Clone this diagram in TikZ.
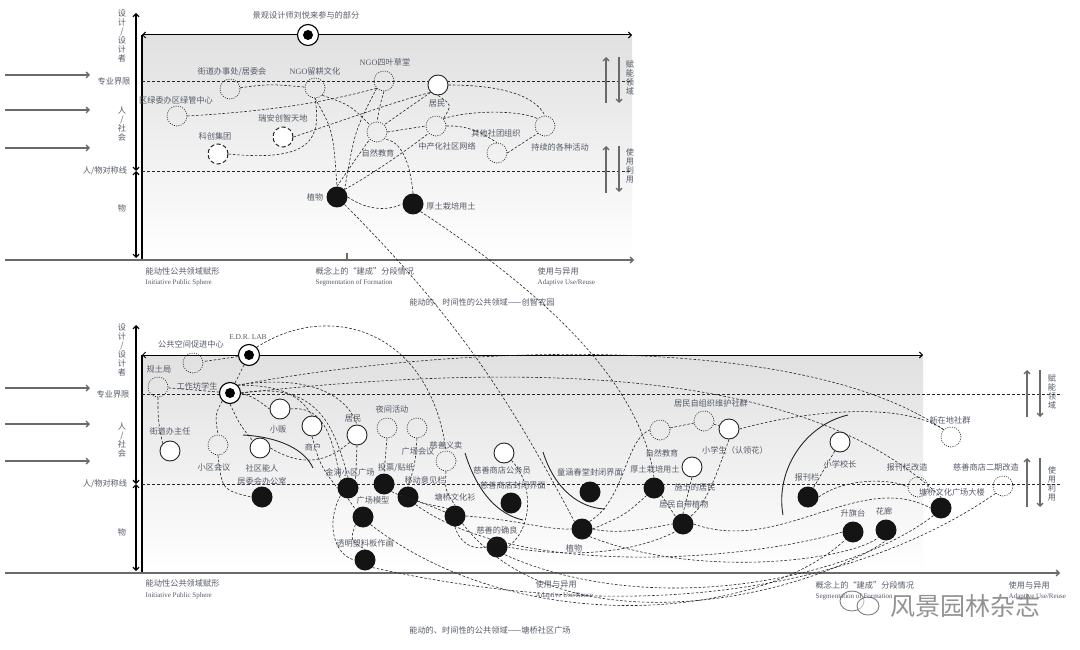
\documentclass[tikz,border=0pt]{standalone}
\usepackage{fontspec}
\setmainfont{Liberation Serif}
\newfontfamily\cjk{Noto Sans CJK SC}
\usetikzlibrary{arrows.meta}
\definecolor{txt}{HTML}{555B68}
\definecolor{axisc}{HTML}{6A6A6A}
\begin{document}
\begin{tikzpicture}[x=1pt,y=-1pt,
  lab/.style={font=\cjk\fontsize{8.2}{9}\selectfont, text=txt, inner sep=0.5pt},
  vlab/.style={lab, align=center},
  en/.style={font=\fontsize{7}{8}\selectfont, text=txt, inner sep=0.5pt, anchor=west},
  cnw/.style={lab, anchor=west},
  dotc/.style={circle, minimum size=20pt, inner sep=0pt, draw=black!85, line width=0.7pt, dash pattern=on 0.9pt off 1.4pt},
  dashc/.style={circle, minimum size=20pt, inner sep=0pt, draw=black!85, fill=white, line width=1pt, dash pattern=on 4pt off 2.5pt},
  openc/.style={circle, minimum size=20pt, inner sep=0pt, draw=black!85, fill=white, line width=0.9pt},
  blackc/.style={circle, minimum size=21pt, inner sep=0pt, fill=black!92},
  tgt/.style={circle, minimum size=21pt, inner sep=0pt, draw=black, fill=white, line width=1.1pt},
  tgtin/.style={circle, minimum size=10pt, inner sep=0pt, fill=black},
  con/.style={draw=black!85, line width=0.6pt, dash pattern=on 2.6pt off 1.8pt},
  guide/.style={draw=black!85, line width=0.7pt, dash pattern=on 3pt off 2pt},
  axisl/.style={draw=axisc, line width=1.3pt},
  vax/.style={draw=black, line width=1.2pt},
  arr/.style={-{Straight Barb[length=3pt,width=6pt]}},
  darr/.style={{Straight Barb[length=3pt,width=6pt]}-{Straight Barb[length=3pt,width=6pt]}},
  solidarc/.style={draw=black!85, line width=0.9pt},
]
\useasboundingbox (0,0) rectangle (1080,650);
\fill[white] (0,0) rectangle (1080,650);

%================ TOP DIAGRAM =================
\shade[top color=black!12, bottom color=white] (142,35) rectangle (632,260);
\draw[vax] (142,35) -- (142,260);
\draw[vax, darr] (136,13) -- (136,171);
\draw[vax, darr] (136,171) -- (136,258);
\draw[draw=black, line width=1pt, darr] (142,35) -- (632,35);
\draw[axisl, arr] (5,260) -- (634,260);
\draw[axisl] (347,253) -- (347,260);
\foreach \yy in {75,110,148} \draw[axisl, arr] (5,\yy) -- (90,\yy);
\draw[guide] (142,81) -- (632,81);
\draw[guide] (142,171) -- (632,171);
\draw[axisl, arr] (606,103) -- (606,57);
\draw[axisl, arr] (619,57) -- (619,103);
\draw[axisl, arr] (606,193) -- (606,146);
\draw[axisl, arr] (619,146) -- (619,192);

\node[vlab] (tv1) at (122,36) {设\\计\\/\\设\\计\\者};
\node[lab] (tv2) at (114,81) {专业界限};
\node[vlab] (tv3) at (122,124) {人\\/\\社\\会};
\node[lab] (tv4) at (105,171) {人/物对称线};
\node[lab] (tv5) at (122,208) {物};
\node[vlab] (tr1) at (630,78) {赋\\能\\领\\域};
\node[vlab] (tr2) at (630,166) {使\\用\\利\\用};

\node[lab] (ttop) at (306,15) {景观设计师刘悦来参与的部分};
\node[tgt] (tt) at (308,35) {};
\node[tgtin] (ttin) at (308,35) {};

\node[dotc] (jd) at (230,89) {};
\node[dotc] (ngo1) at (315,88) {};
\node[dotc] (lw) at (177,116) {};
\node[dashc] (ra) at (283,137) {};
\node[dashc] (kc) at (218,154) {};
\node[blackc] (zw) at (337,197) {};
\node[dotc] (ngo2) at (384,81) {};
\node[openc] (jm) at (438,85) {};
\node[dotc] (zr) at (377,132) {};
\node[dotc] (zc) at (436,126) {};
\node[dotc] (qt) at (497,153) {};
\node[dotc] (cx) at (545,126) {};
\node[blackc] (ht) at (413,204) {};

\node[lab] (jdL) at (232,72) {街道办事处/居委会};
\node[lab] (ngo1L) at (315,71) {{\rmfamily NGO}留耕文化};
\node[lab] (lwL) at (176,100) {区绿委办区绿管中心};
\node[lab] (raL) at (283,118) {瑞安创智天地};
\node[lab] (kcL) at (215,136) {科创集团};
\node[lab] (zwL) at (315,197) {植物};
\node[lab] (ngo2L) at (385,62) {{\rmfamily NGO}四叶草堂};
\node[lab] (jmL) at (437,104) {居民};
\node[lab] (zrL) at (378,153) {自然教育};
\node[lab] (zcL) at (447,146) {中产化社区网络};
\node[lab] (qtL) at (496,133) {其他社团组织};
\node[lab] (cxL) at (560,147) {持续的各种活动};
\node[lab] (htL) at (451,206) {厚土栽培用土};

\draw[con] (jd) .. controls (270,84) .. (ngo1);
\draw[con] (lw.east) .. controls (290,110) and (340,98) .. (ngo2.south west);
\draw[con] (ra.east) .. controls (350,118) and (400,100) .. (jm.south west);
\draw[con] (kc.east) .. controls (310,162) and (322,140) .. (ngo1.south);
\draw[con] (ngo1.south) .. controls (333,130) .. (zw.north);
\draw[con] (ngo1.south east) .. controls (350,105) .. (zr.north west);
\draw[con] (ngo2.south) .. controls (380,105) .. (zr.north);
\draw[con] (ngo2.south west) .. controls (355,130) .. (zw.north east);
\draw[con] (jm.south west) -- (zr.north east);
\draw[con] (jm.south) .. controls (452,105) .. (zc.north east);
\draw[con] (jm.east) .. controls (500,85) and (535,95) .. (cx.north);
\draw[con] (zr.east) -- (zc.west);
\draw[con] (zc.east) .. controls (470,125) and (485,135) .. (qt.north);
\draw[con] (zc.north east) .. controls (470,110) and (520,110) .. (cx.north west);
\draw[con] (qt.east) -- (cx.south west);
\draw[con] (zw.north east) .. controls (380,170) and (420,140) .. (zc.south west);
\draw[con] (zw.north) .. controls (355,160) .. (zr.south west);
\draw[con] (zw.east) .. controls (370,212) and (390,210) .. (ht.west);
\draw[con] (ht.north) .. controls (410,160) and (400,140) .. (zr.south east);

\node[cnw] (tb1) at (145,271) {能动性公共领域赋形};
\node[en] (tb1e) at (145,283) {Initiative Public Sphere};
\node[cnw] (tb2) at (315,271) {概念上的“建成”分段情况};
\node[en] (tb2e) at (315,283) {Segmentation of Formation};
\node[cnw] (tb3) at (537,271) {使用与异用};
\node[en] (tb3e) at (537,283) {Adaptive Use/Reuse};
\node[lab] (tcap) at (482,302) {能动的、时间性的公共领域——创智农园};

%================ BOTTOM DIAGRAM =================
\shade[top color=black!12, bottom color=white] (142,355) rectangle (923,573);
\draw[vax] (142,355) -- (142,573);
\draw[vax, darr] (136,325) -- (136,484);
\draw[vax, darr] (136,484) -- (136,571);
\draw[draw=black, line width=1pt, darr] (142,355) -- (923,355);
\draw[axisl, arr] (5,573) -- (1060,573);
\foreach \yy in {388,424,461} \draw[axisl, arr] (5,\yy) -- (90,\yy);
\draw[guide] (142,394) -- (1062,394);
\draw[guide] (142,484) -- (1062,484);
\draw[axisl, arr] (1027,417) -- (1027,370);
\draw[axisl, arr] (1040,370) -- (1040,417);
\draw[axisl, arr] (1027,507) -- (1027,458);
\draw[axisl, arr] (1040,458) -- (1040,507);

\node[vlab] (bv1) at (122,350) {设\\计\\/\\设\\计\\者};
\node[lab] (bv2) at (113,394) {专业界限};
\node[vlab] (bv3) at (122,440) {人\\/\\社\\会};
\node[lab] (bv4) at (105,484) {人/物对称线};
\node[lab] (bv5) at (122,532) {物};
\node[vlab] (br1) at (1052,392) {赋\\能\\领\\域};
\node[vlab] (br2) at (1052,484) {使\\用\\利\\用};

% solid arcs
\draw[solidarc] (243,435) .. controls (280,437) and (305,450) .. (313,468);
\draw[solidarc] (465,453) .. controls (478,495) and (500,515) .. (523,520);
\draw[solidarc] (543,452) .. controls (555,490) and (580,508) .. (605,509);
\draw[solidarc] (848,415) .. controls (805,425) and (775,470) .. (783,515);

% nodes
\node[tgt] (edr) at (249,355) {};
\node[tgtin] (edrin) at (249,355) {};
\node[dotc] (gk) at (193,363) {};
\node[dotc] (gt) at (158,387) {};
\node[tgt] (gz) at (230,393) {};
\node[tgtin] (gzin) at (230,393) {};
\node[openc] (jdz) at (170,451) {};
\node[dotc] (xq) at (218,445) {};
\node[openc] (sq) at (260,448) {};
\node[openc] (xf) at (280,409) {};
\node[openc] (sh) at (312,426) {};
\node[openc] (bjm) at (357,435) {};
\node[dotc] (yj) at (387,428) {};
\node[dotc] (gc) at (417,428) {};
\node[blackc] (jw) at (262,497) {};
\node[blackc] (jp) at (348,488) {};
\node[blackc] (tp) at (384,484) {};
\node[blackc] (yd) at (408,497) {};
\node[blackc] (gm) at (363,517) {};
\node[blackc] (tm) at (365,560) {};
\node[dotc] (cy) at (446,461) {};
\node[blackc] (wh) at (455,516) {};
\node[blackc] (dq) at (497,547) {};
\node[openc] (gw) at (504,453) {};
\node[blackc] (fb) at (511,503) {};
\node[blackc] (tc) at (590,492) {};
\node[blackc] (bzw) at (582,529) {};
\node[dotc] (bzr) at (660,430) {};
\node[dotc] (zz) at (704,421) {};
\node[openc] (xs) at (729,429) {};
\node[blackc] (bht) at (654,488) {};
\node[openc] (st) at (692,467) {};
\node[blackc] (zd) at (683,524) {};
\node[openc] (xz) at (840,442) {};
\node[blackc] (bk) at (808,497) {};
\node[blackc] (sqt) at (853,532) {};
\node[blackc] (hl) at (886,530) {};
\node[dotc] (bkg) at (918,487) {};
\node[blackc] (dl) at (941,508) {};
\node[dotc] (xzd) at (951,437) {};
\node[dotc] (eq) at (1003,486) {};

% connectors
\draw[con] (edr) -- (gk);
\draw[con] (edr) -- (gz);
\draw[con] (edr.north east) .. controls (330,300) and (430,330) .. (cy.north);
\draw[con] (gt) -- (gz);
\draw[con] (gt.south) .. controls (158,420) .. (jdz.north west);
\draw[con] (gz.south west) .. controls (215,415) .. (xq.north);
\draw[con] (gz.south) .. controls (240,425) .. (sq.north west);
\draw[con] (gz.east) .. controls (255,398) .. (xf.west);
\draw[con] (gz.north east) .. controls (280,385) and (300,395) .. (sh.north);
\draw[con] (gz.north east) .. controls (300,375) and (345,390) .. (bjm.north);
\draw[con] (gz.east) .. controls (320,380) and (335,430) .. (jp.north);
\draw[con] (gz.north east) .. controls (450,345) and (800,330) .. (xzd.north west);
\draw[con] (gz.east) .. controls (500,365) and (800,360) .. (dl.north);
\draw[con] (xq.south) .. controls (222,490) .. (jw.west);
\draw[con] (sq.east) .. controls (310,472) and (335,455) .. (bjm.south west);
\draw[con] (xf.east) .. controls (325,405) and (333,440) .. (jp.north west);
\draw[con] (sh.south) .. controls (320,465) .. (jp.west);
\draw[con] (bjm.south) -- (jp.north east);
\draw[con] (yj.south) .. controls (385,455) .. (tp.north);
\draw[con] (gc.south) .. controls (415,465) .. (yd.north);
\draw[con] (jp.south) -- (gm.north west);
\draw[con] (jp.south west) .. controls (325,525) and (335,555) .. (tm.west);
\draw[con] (gm.south west) .. controls (350,540) .. (tm.north);
\draw[con] (tp.south east) .. controls (420,505) and (435,505) .. (wh.north west);
\draw[con] (yd) -- (wh);
\draw[con] (cy.south) .. controls (445,490) .. (wh.north);
\draw[con] (wh.south) .. controls (460,545) and (475,550) .. (dq.west);
\draw[con] (gw.south east) .. controls (535,485) and (532,530) .. (dq.east);
\draw[con] (gm.south east) .. controls (520,640) and (760,620) .. (sqt.south west);
\draw[con] (wh.south east) .. controls (560,650) and (800,600) .. (hl.south);
\draw[con] (eq.south west) .. controls (900,560) and (700,640) .. (tm.south east);
\draw[con] (dl.south west) .. controls (850,580) and (650,620) .. (dq.south east);
\draw[con] (yd.south east) .. controls (520,580) and (750,560) .. (sqt.west);
\draw[con] (wh.east) .. controls (520,520) and (545,530) .. (bzw.west);
\draw[con] (dq.east) .. controls (580,560) and (640,550) .. (zd.south west);
\draw[con] (bzw.north east) .. controls (625,500) and (625,440) .. (bzr.west);
\draw[con] (bzw.east) .. controls (625,515) .. (bht.south west);
\draw[con] (bzw.east) .. controls (620,535) and (650,528) .. (zd.west);
\draw[con] (bht.south east) .. controls (668,505) .. (zd.north west);
\draw[con] (bzr) -- (zz);
\draw[con] (zz) -- (xs);
\draw[con] (xs.south) .. controls (715,480) and (705,505) .. (zd.north east);
\draw[con] (st.south) -- (zd.north);
\draw[con] (xs.east) .. controls (800,412) and (900,400) .. (xzd.north west);
\draw[con] (xz) -- (bk);
\draw[con] (bk.east) .. controls (845,478) and (890,478) .. (bkg.west);
\draw[con] (bzw.south east) .. controls (700,580) and (850,560) .. (hl.south west);
\draw[con] (zd.east) .. controls (780,555) and (860,470) .. (dl.west);

% links from top diagram
\draw[con] (zw.south east) .. controls (470,330) and (520,420) .. (bzw.north west);
\draw[con] (ht.south east) .. controls (540,290) and (640,380) .. (bht.north);

% watermark (behind the texts)
\draw[black!50, line width=0.9pt] (852,601) ellipse (12 and 10);
\draw[black!50, line width=0.9pt, fill=white, fill opacity=0.5] (868,606) ellipse (11 and 9);
\node[font=\cjk\fontsize{25}{26}\selectfont, text=black!50, inner sep=0pt, opacity=0.85] (wm) at (965,606) {风景园林杂志};

% labels
\node[lab, font=\fontsize{7.5}{8}\selectfont] (edrL) at (248,337) {E.D.R. LAB};
\node[lab] (gkL) at (191,344) {公共空间促进中心};
\node[lab] (gtL) at (159,369) {规土局};
\node[lab] (gzL) at (197,386) {工作坊学生};
\node[lab] (jdzL) at (170,431) {街道办主任};
\node[lab] (xqL) at (214,467) {小区会议};
\node[lab] (sqL) at (262,468) {社区能人};
\node[lab] (xfL) at (278,429) {小贩};
\node[lab] (shL) at (313,447) {商户};
\node[lab] (bjmL) at (353,419) {居民};
\node[lab] (yjL) at (392,409) {夜间活动};
\node[lab] (gcL) at (418,451) {广场会议};
\node[lab] (jwL) at (262,481) {居委会办公室};
\node[lab] (jpL) at (350,472) {金浦小区广场};
\node[lab] (tpL) at (396,468) {投票/贴纸};
\node[lab] (ydL) at (425,480) {移动意见栏};
\node[lab] (gmL) at (373,500) {广场模型};
\node[lab] (tmL) at (365,543) {透明塑料板作画};
\node[lab] (cyL) at (446,445) {慈善义卖};
\node[lab] (whL) at (455,497) {塘桥文化衫};
\node[lab] (dqL) at (497,530) {慈善的确良};
\node[lab] (gwL) at (502,470) {慈善商店公务员};
\node[lab] (fbL) at (513,485) {慈善商店封闭界面};
\node[lab] (tcL) at (590,472) {童涵春堂封闭界面};
\node[lab] (bzwL) at (574,548) {植物};
\node[lab] (bzrL) at (662,453) {自然教育};
\node[lab] (zzL) at (711,403) {居民自组织维护社群};
\node[lab] (xsL) at (735,450) {小学生（认领花）};
\node[lab] (bhtL) at (655,469) {厚土栽培用土};
\node[lab] (stL) at (695,487) {施土的居民};
\node[lab] (zdL) at (684,504) {居民自带植物};
\node[lab] (xzL) at (840,464) {小学校长};
\node[lab] (bkL) at (807,477) {报刊栏};
\node[lab] (sqtL) at (853,513) {升旗台};
\node[lab] (hlL) at (884,511) {花廊};
\node[lab] (bkgL) at (907,467) {报刊栏改造};
\node[lab] (dlL) at (952,492) {塘桥文化广场大楼};
\node[lab] (xzdL) at (950,420) {新在地社群};
\node[lab] (eqL) at (986,467) {慈善商店二期改造};

% bottom axis labels
\node[cnw] (bb1) at (145,583) {能动性公共领域赋形};
\node[en] (bb1e) at (145,596) {Initiative Public Sphere};
\node[cnw] (bb2) at (535,584) {使用与异用};
\node[en] (bb2e) at (535,596) {Adaptive Use/Reuse};
\node[cnw] (bb3) at (815,585) {概念上的“建成”分段情况};
\node[en] (bb3e) at (815,597) {Segmentation of Formation};
\node[cnw] (bb4) at (1008,585) {使用与异用};
\node[en] (bb4e) at (1008,597) {Adaptive Use/Reuse};
\node[lab] (bcap) at (490,630) {能动的、时间性的公共领域——塘桥社区广场};
\end{tikzpicture}
\end{document}
